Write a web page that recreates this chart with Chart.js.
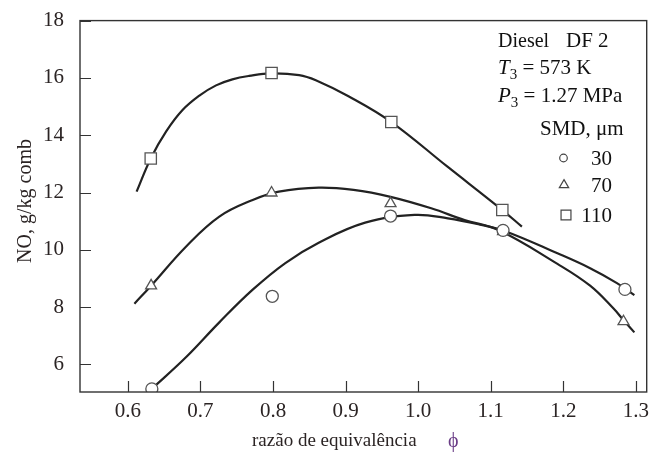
<!DOCTYPE html>
<html>
<head>
<meta charset="utf-8">
<script src="https://cdn.jsdelivr.net/npm/chart.js@4"></script>
<style>
  html, body { margin: 0; padding: 0; background: #fff; }
  #wrap { width: 656px; height: 453px; }
</style>
</head>
<body>
<div id="wrap"><canvas id="no_chart" width="656" height="453"></canvas></div>
<script>
// ------- Data -------
let xTicks = [0.6, 0.7, 0.8, 0.9, 1.0, 1.1, 1.2, 1.3];
let yTicks = [6, 8, 10, 12, 14, 16, 18];
let smdLabels = ["30", "70", "110"];

// measured points
let phi30 = [0.633, 0.799, 0.962, 1.117, 1.285];
let no30 = [5.15, 8.38, 11.18, 10.68, 8.62];
let phi70 = [0.632, 0.798, 0.962, 1.117, 1.283];
let no70 = [8.75, 11.99, 11.62, 10.64, 7.5];
let phi110 = [0.6315, 0.798, 0.963, 1.116];
let no110 = [13.19, 16.17, 14.46, 11.39];

// hand drawn curves through the points
let curvePhi30 = [0.633, 0.68, 0.726, 0.772, 0.817, 0.863, 0.927, 0.995, 1.041, 1.087, 1.12, 1.192, 1.237, 1.274, 1.298];
let curveNo30 = [5.15, 6.25, 7.47, 8.61, 9.54, 10.25, 10.95, 11.22, 11.1, 10.87, 10.65, 9.88, 9.36, 8.84, 8.42];
let curvePhi70 = [0.609, 0.632, 0.68, 0.726, 0.772, 0.808, 0.863, 0.911, 0.962, 1.018, 1.064, 1.11, 1.192, 1.237, 1.269, 1.283, 1.298];
let curveNo70 = [8.12, 8.75, 10.11, 11.16, 11.74, 12.03, 12.17, 12.09, 11.85, 11.45, 11.04, 10.7, 9.51, 8.75, 7.96, 7.55, 7.12];
let curvePhi110 = [0.612, 0.6315, 0.653, 0.675, 0.699, 0.7215, 0.744, 0.767, 0.797, 0.836, 0.859, 0.904, 0.963, 1.04, 1.116, 1.143];
let curveNo110 = [12.03, 13.19, 14.14, 14.87, 15.39, 15.74, 15.95, 16.07, 16.16, 16.1, 15.92, 15.36, 14.46, 12.91, 11.39, 10.81];

function toPoints(xs, ys) {
  return xs.map((x, i) => ({ x: x, y: ys[i] }));
}

const TEXT = "#2b2424";
const SERIF = "'Liberation Serif', 'Times New Roman', serif";

// ------- Curves -------
function curveSet(xs, ys) {
  return {
    data: toPoints(xs, ys),
    showLine: true,
    borderColor: "#222",
    borderWidth: 2.2,
    pointRadius: 0,
    tension: 0.4,
    order: 2,
  };
}
// ------- Markers -------
function markerSet(xs, ys, style, r) {
  return {
    data: toPoints(xs, ys),
    showLine: false,
    pointStyle: style,
    pointRadius: r,
    pointBorderColor: "#555",
    pointBackgroundColor: "#fff",
    pointBorderWidth: 1.3,
    order: 1,
  };
}

// frame, inward ticks, titles and the note box
const extras = {
  id: "extras",
  afterDraw(chart) {
    let ctx = chart.ctx,
      a = chart.chartArea,
      xs = chart.scales.x,
      ys = chart.scales.y;
    ctx.save();
    ctx.strokeStyle = "#333";
    ctx.lineWidth = 1.4;
    ctx.strokeRect(a.left, a.top, a.right - a.left, a.bottom - a.top);
    ctx.lineWidth = 1.2;
    ctx.beginPath();
    xTicks.forEach((v) => {
      let px = Math.round(xs.getPixelForValue(v)) + 0.5;
      ctx.moveTo(px, a.bottom);
      ctx.lineTo(px, a.bottom - 11);
    });
    yTicks.forEach((v) => {
      let py = Math.round(ys.getPixelForValue(v)) + 0.5;
      ctx.moveTo(a.left, py);
      ctx.lineTo(a.left + 11, py);
    });
    ctx.stroke();

    ctx.fillStyle = TEXT;
    // y title
    ctx.save();
    ctx.translate(31, 201);
    ctx.rotate(-Math.PI / 2);
    ctx.font = "20px " + SERIF;
    ctx.textAlign = "center";
    ctx.textBaseline = "alphabetic";
    ctx.fillText("NO, g/kg comb", 0, 0);
    ctx.restore();

    // x title
    ctx.font = "19px " + SERIF;
    ctx.textAlign = "left";
    ctx.textBaseline = "alphabetic";
    ctx.fillText("razão de equivalência", 252, 446);
    ctx.fillStyle = "#6a3c86";
    ctx.font = "20px " + SERIF;
    ctx.fillText("ϕ", 448, 447);

    // note
    ctx.fillStyle = "#111";
    ctx.font = "20px " + SERIF;
    ctx.fillText("Diesel", 498, 47);
    ctx.font = "21px " + SERIF;
    ctx.fillText("DF 2", 566, 47);

    function subLine(letter, sub, rest, x, y) {
      ctx.font = "italic 21px " + SERIF;
      ctx.fillText(letter, x, y);
      x += ctx.measureText(letter).width;
      ctx.font = "15px " + SERIF;
      ctx.fillText(sub, x, y + 5);
      x += ctx.measureText(sub).width;
      ctx.font = "21px " + SERIF;
      ctx.fillText(rest, x, y);
    }
    subLine("T", "3", " = 573 K", 498, 74);
    subLine("P", "3", " = 1.27 MPa", 498, 102);
    ctx.font = "21px " + SERIF;
    ctx.fillText("SMD, μm", 540, 135);

    // legend
    let styles = ["circle", "triangle", "rect"],
      radii = [3.8, 5.4, 7],
      rowsY = [158, 185, 215],
      markX = [563.5, 564, 566];
    ctx.textAlign = "right";
    smdLabels.forEach((lab, i) => {
      ctx.strokeStyle = "#444";
      ctx.fillStyle = "#fff";
      ctx.lineWidth = 1.2;
      Chart.helpers.drawPoint(ctx, { pointStyle: styles[i], radius: radii[i], borderWidth: 1.2 }, markX[i], rowsY[i]);
      ctx.fillStyle = "#111";
      ctx.font = "21px " + SERIF;
      ctx.fillText(lab, 612, rowsY[i] + 7);
    });
    ctx.restore();
  },
};

new Chart("no_chart", {
  type: "scatter",
  data: {
    datasets: [
      markerSet(phi30, no30, "circle", 6),
      markerSet(phi70, no70, "triangle", 6.3),
      markerSet(phi110, no110, "rect", 8),
      curveSet(curvePhi30, curveNo30),
      curveSet(curvePhi70, curveNo70),
      curveSet(curvePhi110, curveNo110),
    ],
  },
  options: {
    responsive: false,
    animation: false,
    layout: { padding: { top: 20, right: 6, left: 0, bottom: 0 } },
    plugins: { legend: { display: false }, tooltip: { enabled: false } },
    scales: {
      x: {
        type: "linear",
        min: 0.534,
        max: 1.315,
        grid: { display: false },
        border: { display: false },
        afterBuildTicks: (s) => { s.ticks = xTicks.map((v) => ({ value: v })); },
        afterFit: (s) => { s.height = 61; },
        ticks: {
          padding: -1,
          color: TEXT,
          font: { family: SERIF, size: 21 },
          callback: (v) => Number(v).toFixed(1),
        },
      },
      y: {
        type: "linear",
        min: 5.04,
        max: 18,
        grid: { display: false },
        border: { display: false },
        afterBuildTicks: (s) => { s.ticks = yTicks.map((v) => ({ value: v })); },
        afterFit: (s) => { s.width = 80; },
        ticks: {
          padding: 8,
          color: TEXT,
          font: { family: SERIF, size: 21 },
          callback: (v) => String(v),
        },
      },
    },
  },
  plugins: [extras],
});
</script>
</body>
</html>
